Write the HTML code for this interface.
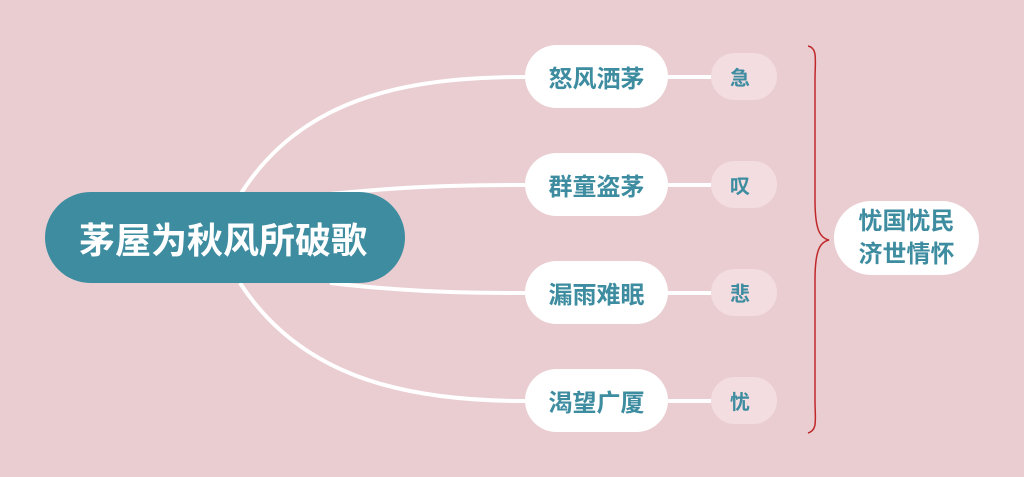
<!DOCTYPE html>
<html><head><meta charset="utf-8"><style>
body{margin:0;width:1024px;height:477px;background:#e9cdd1;overflow:hidden;position:relative;font-family:"Liberation Sans","Noto Sans CJK SC",sans-serif;font-weight:bold}
.n{position:absolute;display:flex;align-items:center;justify-content:center;color:#3d8ca0;text-align:center}
.b{background:#fff;border-radius:32px;width:143px;height:63px;left:525px;font-size:24px}
.s{background:#f3dde0;border-radius:24px;width:58px;height:47px;left:711px;padding-right:8px;font-size:20px}
</style></head><body>
<svg width="1024" height="477" style="position:absolute;left:0;top:0">
<g fill="none" stroke="#fff" stroke-width="4">
<path d="M240 195 C300 100 400 77 525 77"/>
<path d="M330 194 C400 187 450 185 525 185"/>
<path d="M330 283 C400 291 450 293 525 293"/>
<path d="M240 283 C300 375 400 401 525 401"/>
<line x1="668" y1="77" x2="711" y2="77"/>
<line x1="668" y1="185" x2="711" y2="185"/>
<line x1="668" y1="293" x2="711" y2="293"/>
<line x1="668" y1="401" x2="711" y2="401"/>
</g>
<path d="M808 46 C818 48 815 60 815 80 L815 200 C815 230 820 238 829 240 C820 242 815 250 815 280 L815 400 C815 420 818 430 808 433" fill="none" stroke="#c0282a" stroke-width="1.5"/>
</svg>
<div class="n" style="left:45px;top:192px;width:360px;height:91px;background:#3d8ca0;color:#fff;border-radius:46px;font-size:36px;padding-right:4px;box-sizing:border-box">茅屋为秋风所破歌</div>
<div class="n b" style="top:45px">怒风洒茅</div>
<div class="n b" style="top:153px">群童盗茅</div>
<div class="n b" style="top:261px">漏雨难眠</div>
<div class="n b" style="top:369px">渴望广厦</div>
<div class="n s" style="top:53px">急</div>
<div class="n s" style="top:161px">叹</div>
<div class="n s" style="top:269px">悲</div>
<div class="n s" style="top:377px">忧</div>
<div class="n" style="left:834px;top:201px;width:145px;height:74px;background:#fff;border-radius:37px;font-size:24px;line-height:33px">忧国忧民<br>济世情怀</div>
</body></html>
